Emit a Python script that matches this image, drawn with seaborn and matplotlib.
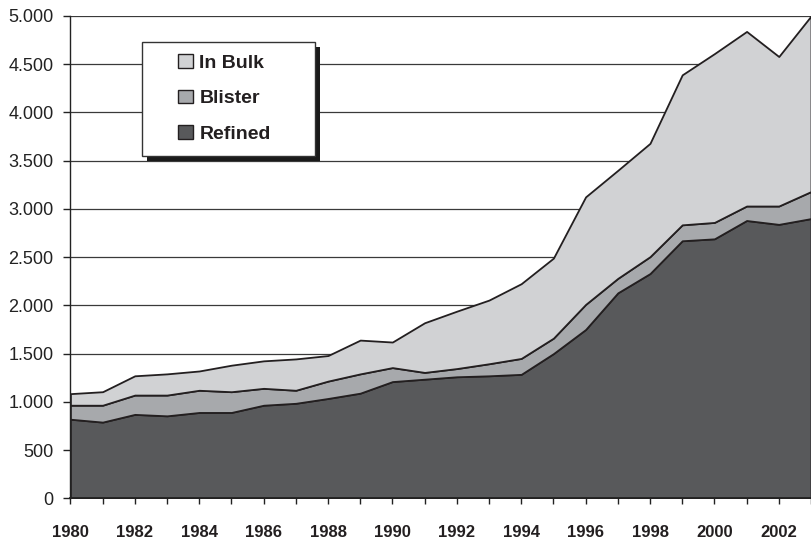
import matplotlib
matplotlib.use("Agg")
import matplotlib.pyplot as plt
import seaborn as sns
from matplotlib.patches import Patch, Rectangle
from matplotlib.ticker import FuncFormatter, MultipleLocator
from matplotlib import font_manager

years = list(range(1980, 2004))
refined = [820, 790, 870, 855, 890, 890, 965, 985, 1035, 1090, 1210, 1235,
           1260, 1270, 1285, 1500, 1750, 2130, 2330, 2670, 2690, 2880, 2840, 2900]
blister = [145, 175, 200, 215, 230, 215, 175, 135, 180, 200, 145, 70,
           85, 125, 165, 160, 260, 150, 175, 165, 170, 150, 190, 280]
in_bulk = [120, 140, 200, 220, 200, 275, 285, 325, 265, 350, 265, 515,
           595, 660, 775, 830, 1115, 1120, 1175, 1555, 1750, 1810, 1550, 1820]
series_names = ["Refined", "Blister", "In Bulk"]
colors = ["#58595b", "#a7a9ac", "#d1d2d4"]
edge = "#231f20"

sns.set_theme(style="white")
avail = {f.name for f in font_manager.fontManager.ttflist}
narrow = "Liberation Sans Narrow" if "Liberation Sans Narrow" in avail else "Liberation Sans"
plt.rcParams["font.family"] = ["Liberation Sans", "DejaVu Sans"]

W, H = 811, 543
fig = plt.figure(figsize=(W / 100, H / 100), dpi=100)
x0, x1 = 70.4, 811
y0, y1 = 498.3, 16
ax = fig.add_axes([x0 / W, (H - y0) / H, (x1 - x0) / W, (y0 - y1) / H])

ax.set_ylim(0, 5000)
ax.set_xlim(1980, 1980 + (811 - 70.4) / 32.55)
ax.yaxis.set_major_locator(MultipleLocator(500))
ax.grid(axis="y", color="#3a3a3a", linewidth=0.9)
ax.set_axisbelow(True)

ax.stackplot(years, refined, blister, in_bulk, colors=colors,
             edgecolor=edge, linewidth=1.3, zorder=2)

ax.yaxis.set_major_formatter(FuncFormatter(lambda v, p: f"{int(v):,}".replace(",", ".")))
ax.set_xticks(years)
ax.set_xticklabels([str(y) if y % 2 == 0 else "" for y in years])
xfs = 13 if narrow != "Liberation Sans" else 12
for lab in ax.get_xticklabels():
    lab.set_fontfamily([narrow, "Liberation Sans", "DejaVu Sans"])
    lab.set_fontweight("bold")
    lab.set_fontsize(xfs)
    lab.set_color("#231f20")
ax.tick_params(axis="x", direction="out", length=4.5, width=1, color="#222222",
               pad=15, bottom=True)
ax.tick_params(axis="y", direction="out", length=5, width=1, color="#222222",
               pad=7, labelsize=13, left=True)
for lab in ax.get_yticklabels():
    lab.set_color("#222222")
for s in ["top", "right"]:
    ax.spines[s].set_visible(False)
ax.spines["left"].set_color("#222222")
ax.spines["left"].set_linewidth(1)
ax.spines["bottom"].set_color("#222222")
ax.spines["bottom"].set_linewidth(1.3)
ax.set_xlabel("")
ax.set_ylabel("")

# Legend box with shadow
def fx(px):
    return px / W

def fy(py):
    return (H - py) / H

bx0, by0, bx1, by1 = 141.7, 41.7, 315, 156
sh = 5
fig.patches.append(Rectangle((fx(bx0 + sh), fy(by1 + sh)), fx(bx1) - fx(bx0), fy(by0) - fy(by1),
                             transform=fig.transFigure, facecolor="#1a1a1a",
                             edgecolor="none", zorder=5))
fig.patches.append(Rectangle((fx(bx0), fy(by1)), fx(bx1) - fx(bx0), fy(by0) - fy(by1),
                             transform=fig.transFigure, facecolor="white",
                             edgecolor="#333333", linewidth=1, zorder=6))

handles = [Patch(facecolor=colors[i], edgecolor=edge, linewidth=1, label=series_names[i])
           for i in [2, 1, 0]]
leg = fig.legend(handles=handles, loc="upper left",
                 bbox_to_anchor=(fx(178), fy(54)), frameon=False,
                 prop={"weight": "bold", "size": 14},
                 handlelength=0.75, handleheight=0.72, handletextpad=0.35,
                 labelspacing=0.92, borderpad=0, borderaxespad=0)
leg.set_zorder(7)
for t in leg.get_texts():
    t.set_color("#231f20")

fig.savefig("out.png", dpi=100)
